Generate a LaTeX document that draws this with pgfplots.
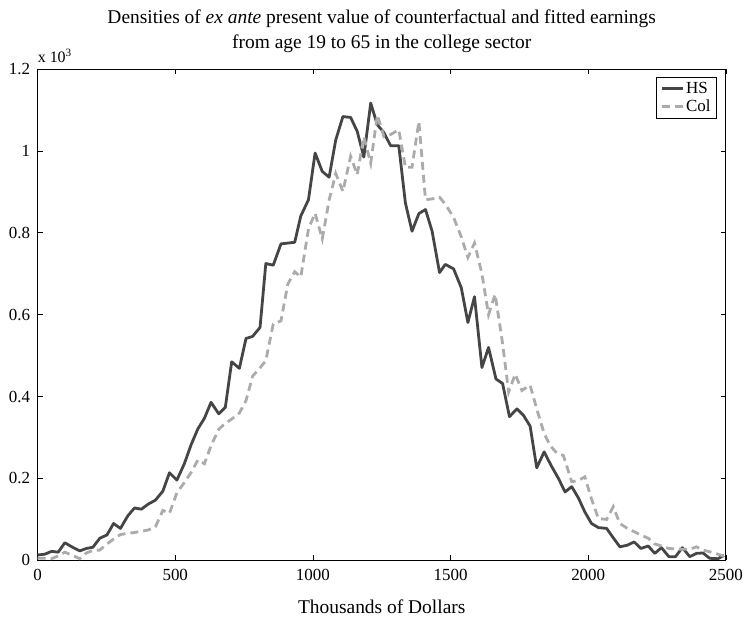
\documentclass[border=0pt]{standalone}
\usepackage{fontspec}
\setmainfont{Liberation Serif}
\usepackage{pgfplots}
\pgfplotsset{compat=1.18}
\definecolor{hsc}{HTML}{454545}
\definecolor{colc}{HTML}{ABABAB}
\begin{document}
\begin{tikzpicture}
\useasboundingbox (-37.7pt,-60pt) rectangle (707.5pt,562pt);
\begin{axis}[
  width=690.3pt, height=492.7pt, scale only axis, clip=false,
  xmin=0, xmax=2500, ymin=0, ymax=1.2,
  xtick={0,500,1000,1500,2000,2500},
  xticklabels={0,500,1000,1500,2000,2500},
  ytick={0,0.2,0.4,0.6,0.8,1,1.2},
  yticklabels={0,0.2,0.4,0.6,0.8,1,1.2},
  tick pos=both, tick align=inside,
  major tick length=5pt,
  tick style={black, line width=0.7pt},
  axis line style={black, line width=1.1pt},
  ticklabel style={font=\fontsize{17}{20}\selectfont},
  xticklabel style={yshift=-5pt},
  yticklabel style={xshift=-4pt},
  xlabel={Thousands of Dollars},
  xlabel style={font=\fontsize{19.5}{23}\selectfont, yshift=-13pt},
  title={Densities of \textit{ex ante} present value of counterfactual and fitted earnings\\from age 19 to 65 in the college sector},
  title style={align=center, font=\fontsize{19.5}{25}\selectfont, yshift=7pt},
  legend style={at={(1,1)}, anchor=north east, xshift=-9pt, yshift=-8pt,
    font=\fontsize{17}{19}\selectfont, draw=black, line width=0.6pt,
    inner xsep=4pt, inner ysep=3pt, row sep=1pt},
  legend cell align=left,
  legend image code/.code={\draw[#1, line width=2.8pt] (0pt,0pt) -- (21pt,0pt);},
]
\addplot[hsc, line width=2.8pt, line join=round] coordinates {
(0,0.013) (26,0.015) (51,0.022) (75,0.020) (99,0.043) (127,0.032) (153,0.023)
(177,0.029) (201,0.032) (226,0.054) (252,0.062) (276,0.090) (301,0.078)
(328,0.109) (352,0.128) (377,0.125) (401,0.137) (428,0.147) (455,0.169)
(479,0.214) (506,0.196) (533,0.236) (558,0.283) (582,0.321) (606,0.347)
(630,0.386) (658,0.358) (682,0.374) (705,0.485) (733,0.469) (757,0.542)
(781,0.547) (808,0.569) (829,0.725) (856,0.721) (884,0.773) (909,0.775)
(934,0.777) (956,0.841) (984,0.881) (1008,0.995) (1034,0.950) (1059,0.936)
(1083,1.027) (1109,1.084) (1137,1.082) (1161,1.048) (1185,0.985) (1210,1.117)
(1234,1.064) (1258,1.045) (1282,1.013) (1312,1.013) (1336,0.873) (1360,0.804)
(1385,0.847) (1409,0.857) (1433,0.804) (1460,0.703) (1481,0.723) (1511,0.712)
(1539,0.666) (1563,0.581) (1587,0.644) (1614,0.471) (1638,0.520) (1665,0.443)
(1689,0.432) (1714,0.351) (1741,0.370) (1765,0.354) (1789,0.328) (1813,0.226)
(1840,0.265) (1865,0.232) (1892,0.200) (1916,0.167) (1940,0.180) (1964,0.153)
(1988,0.118) (2012,0.090) (2037,0.080) (2067,0.078) (2091,0.055) (2115,0.033)
(2142,0.037) (2167,0.045) (2191,0.029) (2218,0.035) (2242,0.017) (2266,0.031)
(2293,0.009) (2317,0.009) (2342,0.031) (2369,0.009) (2393,0.017) (2417,0.018)
(2441,0.005) (2471,0.004) (2493,0.012)
};
\addlegendentry{HS}
\addplot[colc, line width=2.8pt, dash pattern=on 8pt off 5pt] coordinates {
(0,0.005) (26,0.005) (51,0.004) (75,0.011) (99,0.020) (127,0.012) (153,0.004)
(177,0.018) (201,0.024) (226,0.025) (252,0.040) (276,0.052) (301,0.063)
(328,0.066) (352,0.068) (377,0.071) (401,0.074) (428,0.082) (455,0.122)
(479,0.115) (506,0.165) (533,0.190) (558,0.215) (582,0.245) (606,0.236)
(630,0.280) (658,0.320) (682,0.335) (705,0.345) (733,0.360) (757,0.390)
(781,0.450) (808,0.470) (829,0.488) (856,0.577) (884,0.585) (909,0.675)
(934,0.705) (956,0.692) (984,0.810) (1008,0.848) (1034,0.785) (1059,0.880)
(1083,0.945) (1109,0.901) (1137,0.987) (1161,0.942) (1185,1.035) (1210,0.970)
(1234,1.088) (1258,1.035) (1282,1.040) (1312,1.052) (1336,0.960) (1360,0.960)
(1385,1.072) (1409,0.881) (1433,0.883) (1460,0.887) (1481,0.870) (1511,0.838)
(1539,0.790) (1563,0.740) (1587,0.775) (1614,0.700) (1638,0.600) (1662,0.650)
(1689,0.530) (1711,0.411) (1735,0.455) (1759,0.415) (1789,0.428) (1813,0.370)
(1840,0.310) (1862,0.280) (1886,0.262) (1910,0.256) (1940,0.192) (1964,0.195)
(1988,0.204) (2012,0.150) (2037,0.102) (2067,0.100) (2091,0.131) (2115,0.090)
(2142,0.078) (2167,0.070) (2191,0.062) (2218,0.054) (2242,0.040) (2266,0.035)
(2293,0.029) (2317,0.028) (2342,0.027) (2369,0.027) (2393,0.033) (2417,0.025)
(2441,0.021) (2471,0.015) (2493,0.010)
};
\addlegendentry{Col}
\node[anchor=south west, inner sep=0pt, font=\fontsize{16}{18}\selectfont] at (rel axis cs:0,1) [yshift=6pt] {x 10\textsuperscript{3}};
\end{axis}
\end{tikzpicture}
\end{document}
